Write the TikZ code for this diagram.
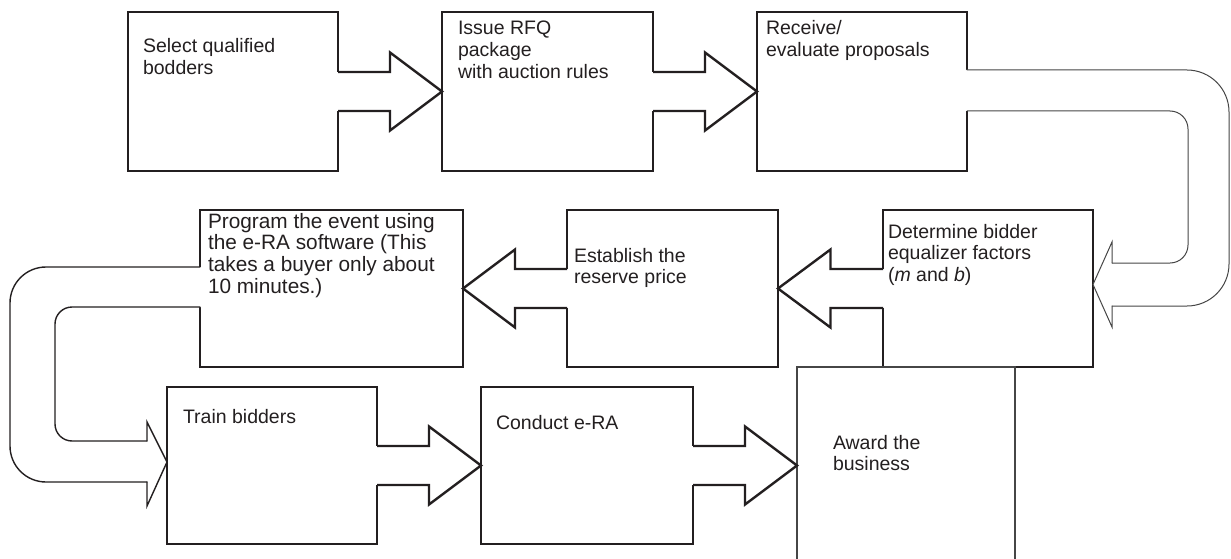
\documentclass[tikz,border=0pt]{standalone}
\usepackage{fontspec}
\setmainfont{Liberation Sans}
\usetikzlibrary{calc}
\definecolor{ink}{RGB}{35,31,32}
\definecolor{thinink}{RGB}{70,70,70}

% Fat block arrow from one box edge to the next; the shaft opens into the source box.
\newcommand\flowarrow[2]{%
  \fill[white] let \p1=(#1) in
    (\x1-1.9pt,\y1+19.5pt) rectangle (\x1+1.9pt,\y1-19.5pt);
  \fill[white] let \p1=(#1), \p2=(#2), \p3=($(#1)!.5!(#2)$) in
    (\x1,\y1+19.5pt) -- (\x3,\y1+19.5pt) -- (\x3,\y1+39pt) -- (\x2,\y1)
    -- (\x3,\y1-39pt) -- (\x3,\y1-19.5pt) -- (\x1,\y1-19.5pt) -- cycle;
  \draw[flowline] let \p1=(#1), \p2=(#2), \p3=($(#1)!.5!(#2)$) in
    (\x1,\y1+19.5pt) -- (\x3,\y1+19.5pt) -- (\x3,\y1+39pt) -- (\x2,\y1)
    -- (\x3,\y1-39pt) -- (\x3,\y1-19.5pt) -- (\x1,\y1-19.5pt);
}

\begin{document}
\begin{tikzpicture}[x=1pt,y=-1pt,
  procbox/.style={draw=ink, line width=2.4pt, rectangle, inner sep=0pt, outer sep=0pt},
  openbox/.style={draw=thinink, line width=1.1pt, fill=white, rectangle, inner sep=0pt, outer sep=0pt},
  flowline/.style={draw=ink, line width=2.4pt, line join=miter},
  loopline/.style={draw=ink, line width=1.4pt, line cap=round},
  thinloop/.style={draw=thinink, line width=1.0pt, line cap=round},
  lbl/.style={anchor=base west, inner sep=0pt, outer sep=0pt, text=ink, align=left,
    font=\fontsize{19.5}{21.8}\selectfont},
]
\useasboundingbox (0,0) rectangle (1231,559);

% process boxes
\node[procbox, minimum width=210pt, minimum height=159pt] (select)    at (233,91.5) {};
\node[procbox, minimum width=211pt, minimum height=159pt] (issue)     at (547.5,91.5) {};
\node[procbox, minimum width=210pt, minimum height=159pt] (receive)   at (862,91.5) {};
\node[procbox, minimum width=210pt, minimum height=157pt] (determine) at (988,288.5) {};
\node[procbox, minimum width=211pt, minimum height=157pt] (establish) at (672.5,288.5) {};
\node[procbox, minimum width=263pt, minimum height=157pt] (program)   at (331.5,288.5) {};
\node[procbox, minimum width=210pt, minimum height=157pt] (train)     at (272,465.5) {};
\node[procbox, minimum width=212pt, minimum height=157pt] (conduct)   at (587,465.5) {};
\node[openbox, minimum width=218pt, minimum height=196pt] (award)     at (906,465) {};

% straight block arrows
\flowarrow{select.east}{issue.west}
\flowarrow{issue.east}{receive.west}
\flowarrow{determine.west}{establish.east}
\flowarrow{establish.west}{program.east}
\flowarrow{train.east}{conduct.west}
\flowarrow{conduct.east}{award.west}

% U-turn arrow: receive -> determine
\fill[white] let \p1=(receive.east), \p2=(determine.east) in
  (\x1-1.9pt,\y1+21.5pt) -- (1229pt,\y1+21.5pt) -- (1229pt,\y2-17.5pt)
  -- (\x2+19pt,\y2-17.5pt) -- (\x2+19pt,\y2-38.5pt) -- (\x2,\y2+4pt)
  -- (\x2+19pt,\y2+46.5pt) -- (\x2+19pt,\y2+25.5pt) -- (1188pt,\y2+25.5pt)
  -- (1188pt,\y1-19.5pt) -- (\x1-1.9pt,\y1-19.5pt) -- cycle;
\draw[thinloop, rounded corners=42pt] let \p1=(receive.east), \p2=(determine.east) in
  (\x1,\y1+21.5pt) -- (1229pt,\y1+21.5pt) -- (1229pt,\y2-17.5pt) -- (\x2+19pt,\y2-17.5pt);
\draw[thinloop] let \p1=(receive.east), \p2=(determine.east) in
  (\x2+19pt,\y2-17.5pt) -- (\x2+19pt,\y2-38.5pt) -- (\x2,\y2+4pt)
  -- (\x2+19pt,\y2+46.5pt) -- (\x2+19pt,\y2+25.5pt);
\draw[thinloop, rounded corners=18pt] let \p1=(receive.east), \p2=(determine.east) in
  (\x2+19pt,\y2+25.5pt) -- (1188pt,\y2+25.5pt) -- (1188pt,\y1-19.5pt) -- (\x1,\y1-19.5pt);

% U-turn arrow: program -> train
\fill[white] let \p1=(program.west), \p2=(train.west) in
  (\x1+1.9pt,\y1+21.5pt) -- (10pt,\y1+21.5pt) -- (10pt,\y2-16.5pt)
  -- (\x2-20pt,\y2-16.5pt) -- (\x2-20pt,\y2-40.5pt) -- (\x2,\y2+3.5pt)
  -- (\x2-20pt,\y2+43.5pt) -- (\x2-20pt,\y2+24.5pt) -- (55pt,\y2+24.5pt)
  -- (55pt,\y1-18.5pt) -- (\x1+1.9pt,\y1-18.5pt) -- cycle;
\draw[loopline, rounded corners=36pt] let \p1=(program.west), \p2=(train.west) in
  (\x1,\y1+21.5pt) -- (10pt,\y1+21.5pt) -- (10pt,\y2-16.5pt) -- (\x2-20pt,\y2-16.5pt);
\draw[loopline] let \p1=(program.west), \p2=(train.west) in
  (\x2-20pt,\y2-16.5pt) -- (\x2-20pt,\y2-40.5pt) -- (\x2,\y2+3.5pt)
  -- (\x2-20pt,\y2+43.5pt) -- (\x2-20pt,\y2+24.5pt);
\draw[loopline, rounded corners=17pt] let \p1=(program.west), \p2=(train.west) in
  (\x2-20pt,\y2+24.5pt) -- (55pt,\y2+24.5pt) -- (55pt,\y1-18.5pt) -- (\x1,\y1-18.5pt);

% box texts (each node sits on the baseline of its last line)
\node[lbl] (select-t)    at (143,74.8)  {Select qualified\\bodders};
\node[lbl] (issue-t)     at (458,78.6)  {Issue RFQ\\package\\with auction rules};
\node[lbl] (receive-t)   at (766,56.8)  {Receive/\\evaluate proposals};
\node[lbl] (determine-t) at (888,281.6) {Determine bidder\\equalizer factors\\(\textit{m} and \textit{b})};
\node[lbl] (establish-t) at (574,283.8) {Establish the\\reserve price};
\node[lbl, font=\fontsize{20.8}{21.9}\selectfont] (program-t) at (208,293.7)
  {Program the event using\\the e-RA software (This\\takes a buyer only about\\10 minutes.)};
\node[lbl] (train-t)     at (183,423)   {Train bidders};
\node[lbl] (conduct-t)   at (496,429)   {Conduct e-RA};
\node[lbl] (award-t)     at (833,470.8) {Award the\\business};
\end{tikzpicture}
\end{document}
